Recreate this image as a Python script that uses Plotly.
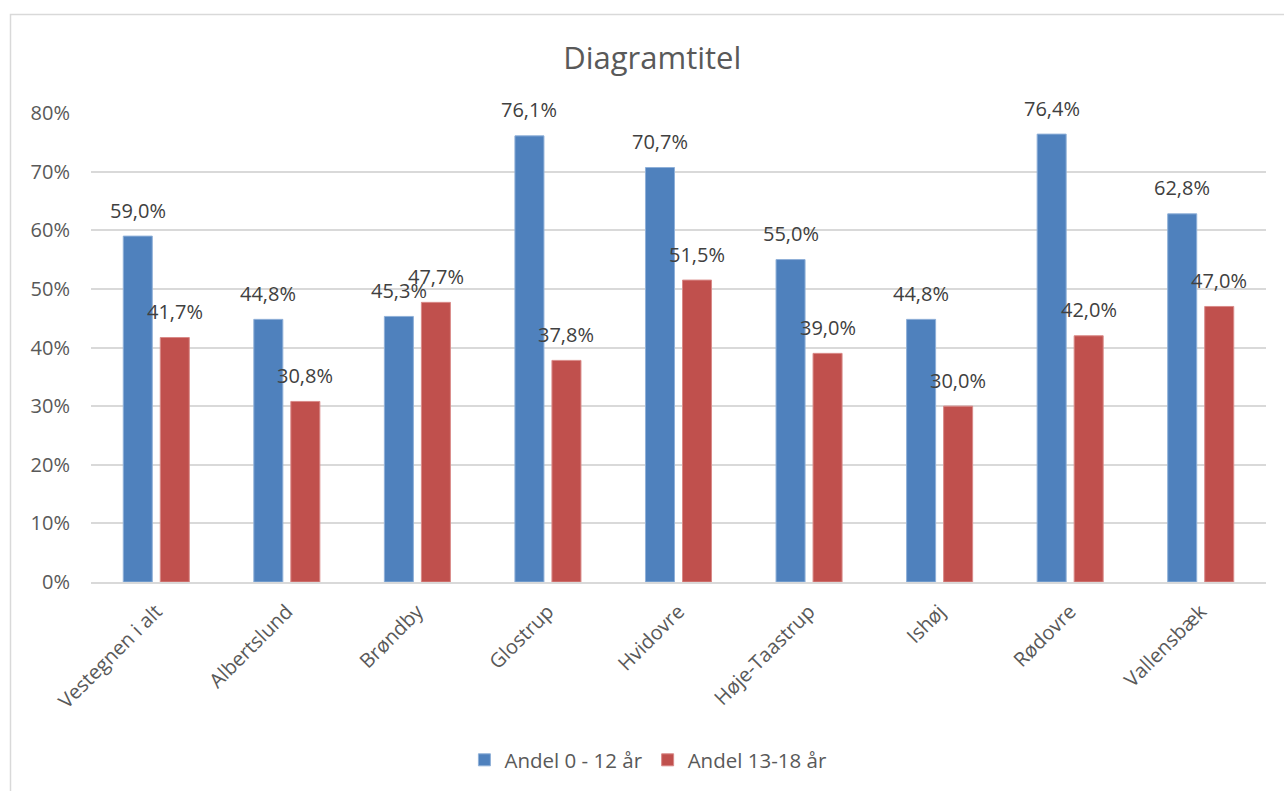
import plotly.graph_objects as go

categories = ["Vestegnen i alt", "Albertslund", "Brøndby", "Glostrup", "Hvidovre",
              "Høje-Taastrup", "Ishøj", "Rødovre", "Vallensbæk"]
andel_0_12 = [0.590, 0.448, 0.453, 0.761, 0.707, 0.550, 0.448, 0.764, 0.628]
andel_13_18 = [0.417, 0.308, 0.477, 0.378, 0.515, 0.390, 0.300, 0.420, 0.470]
series_names = ["Andel 0 - 12 år", "Andel 13-18 år"]
y_ticks = [0, 0.1, 0.2, 0.3, 0.4, 0.5, 0.6, 0.7, 0.8]

BLUE = "#4F81BD"
RED = "#C0504D"
TXT = "#595959"
GRID = "#D9D9D9"
FONT = "Open Sans"

fig = go.Figure()
fig.add_trace(go.Bar(x=categories, y=andel_0_12, name=series_names[0],
                     marker=dict(color=BLUE, line=dict(color="#8FB0D8", width=1))))
fig.add_trace(go.Bar(x=categories, y=andel_13_18, name=series_names[1],
                     marker=dict(color=RED, line=dict(color="#D98A88", width=1))))

annotations = []
for vals, shift in ((andel_0_12, -18.5), (andel_13_18, 18.5)):
    for c, v in zip(categories, vals):
        annotations.append(dict(
            x=c, y=v, xref="x", yref="y", text=f"{v*100:.1f}%".replace(".", ","),
            showarrow=False, xshift=shift, yshift=26, yanchor="middle",
            font=dict(family=FONT, size=20, color="#404040")))

fig.update_layout(
    width=1284, height=791,
    paper_bgcolor="white", plot_bgcolor="white",
    margin=dict(l=91, r=18, t=113, b=209),
    barmode="group", bargap=0.433, bargroupgap=0.216,
    separators=",.",
    font=dict(family=FONT, color=TXT),
    title=dict(text="Diagramtitel", x=0.508, xref="container", xanchor="center",
               y=1 - 58 / 791, yref="container", yanchor="middle",
               font=dict(family=FONT, size=31, color=TXT)),
    legend=dict(orientation="h", x=0.505, xref="container", xanchor="center",
                y=1 - 760 / 791, yref="container", yanchor="middle",
                font=dict(family=FONT, size=20.5, color=TXT),
                itemwidth=30, tracegroupgap=0, traceorder="normal"),
    annotations=annotations,
    shapes=[dict(type="rect", xref="paper", yref="paper",
                 x0=(10.5 - 91) / 1175, x1=1.05, y0=-0.6, y1=(582 - 14.5) / 469,
                 line=dict(color=GRID, width=1.5), fillcolor="rgba(0,0,0,0)", layer="below")],
)
fig.update_yaxes(range=[0, 0.8], tickvals=y_ticks, tickformat=".0%",
                 showgrid=True, gridcolor=GRID, gridwidth=1.5, zeroline=False,
                 showline=False, ticks="", ticklabelstandoff=20,
                 tickfont=dict(family=FONT, size=20, color=TXT))
fig.update_xaxes(showline=True, linecolor=GRID, linewidth=2, ticks="", tickangle=-45,
                 ticklabelstandoff=8,
                 tickfont=dict(family=FONT, size=20, color=TXT), showgrid=False)

fig.write_html("out.html", config={"displayModeBar": False},
               post_script="document.body.style.margin='0';document.body.style.overflow='hidden';")
